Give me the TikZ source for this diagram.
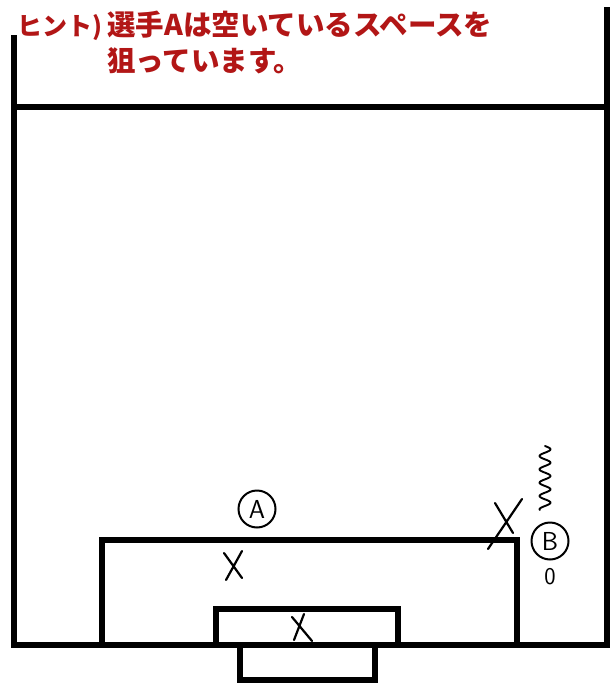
\documentclass[tikz,border=0pt]{standalone}
\usepackage{fontspec}
\newfontfamily\jp{Noto Sans CJK JP}
\definecolor{hintred}{RGB}{178,22,22}
\tikzset{
  field/.style={line width=6.5pt, line join=miter, line cap=rect},
  pen/.style={line width=2.2pt, line cap=round, line join=round},
  player/.style={circle, draw, line width=2pt, inner sep=0pt, minimum size=37pt, font=\sffamily\fontsize{26}{26}\selectfont},
  hint/.style={text=hintred, font=\jp\bfseries\fontsize{28.5}{36}\selectfont, inner sep=0pt, anchor=north west, align=left}
}
\begin{document}
\begin{tikzpicture}[x=1pt,y=-1pt]
\useasboundingbox[fill=white] (0,0) rectangle (613,687);
% field
\draw[field] (14,38) -- (14,645) -- (607,645) -- (607,10);
\draw[field] (14,107) -- (607,107);
\draw[field] (102,645) -- (102,540) -- (517,540) -- (517,645);
\draw[field] (216,645) -- (216,609) -- (398,609) -- (398,645);
\draw[field] (240,645) -- (240,680) -- (375,680) -- (375,645);
% text
\node[hint, font=\jp\bfseries\fontsize{25}{36}\selectfont] (hintlabel) at (17,14) {ヒント)};
\node[hint] (hinttext) at (107,11) {選手Aは空いているスペースを\\狙っています。};
% players
\node[player] (A) at (257,509) {A};
\node[player] (B) at (550,541) {B};
\node[font=\sffamily\fontsize{24}{24}\selectfont, inner sep=0pt] (ball) at (550,577) {0};
% X marks
\draw[pen] (224,553) -- (242,578) (242,551) -- (226,580);
\draw[pen] (292,617) -- (312,641) (304,614) -- (294,640);
\draw[pen] (495,503) -- (513,533) (522,499) -- (488,549);
% wavy line
\draw[pen, line width=1.9pt] plot[smooth, domain=0:64, samples=90] ({545+5.5*sin(\x*27)}, {446+\x});
\end{tikzpicture}
\end{document}
